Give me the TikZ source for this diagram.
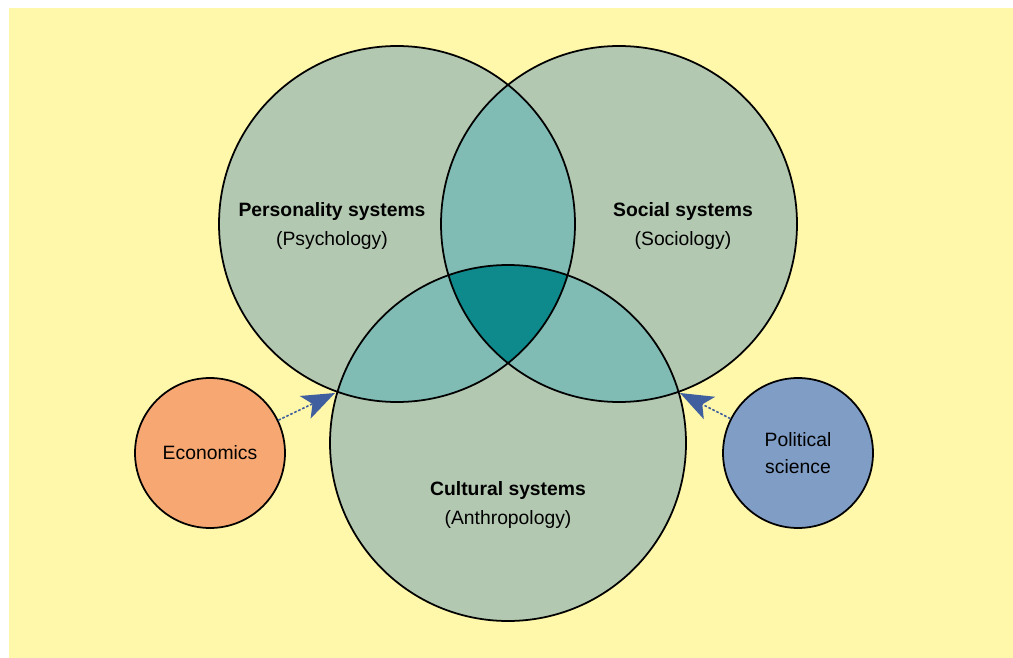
\documentclass[tikz,border=0pt]{standalone}
\usepackage{fontspec}
\setmainfont{Liberation Sans}
\usetikzlibrary{arrows.meta}

\definecolor{paper}{HTML}{FFF7AA}
\definecolor{basefill}{HTML}{B3C8B1}
\definecolor{pairfill}{HTML}{80BBB4}
\definecolor{tripfill}{HTML}{0F8A8C}
\definecolor{econfill}{HTML}{F7A872}
\definecolor{polfill}{HTML}{7F9DC5}
\definecolor{arrowblue}{HTML}{3F5F9E}

\begin{document}
\begin{tikzpicture}[x=0.02cm,y=-0.02cm,
		system/.style={circle,fill=basefill,inner sep=0pt,minimum size=7.12cm},
		field/.style={circle,draw,line width=1pt,inner sep=0pt,minimum size=3cm,align=center,font=\fontsize{11}{15}\selectfont},
		lbl/.style={align=center,font=\fontsize{11}{16}\selectfont},
		feed/.style={arrowblue,line width=0.9pt,dash pattern=on 1.5pt off 1pt,-{Stealth[length=0.66cm,width=0.5cm,inset=0.16cm]}}]
		\useasboundingbox (0,0) rectangle (1013,658);
		\fill[paper] (9,8) rectangle (1013,658);

		% the three systems
		\node[system] (pers) at (397,224) {};
		\node[system] (soc) at (619,224) {};
		\node[system] (cult) at (508,443) {};

		% overlaps
		\begin{scope}
			\clip (pers.center) circle (178);
			\fill[pairfill] (soc.center) circle (178);
			\fill[pairfill] (cult.center) circle (178);
		\end{scope}
		\begin{scope}
			\clip (soc.center) circle (178);
			\fill[pairfill] (cult.center) circle (178);
			\clip (cult.center) circle (178);
			\fill[tripfill] (pers.center) circle (178);
		\end{scope}
		\foreach \n in {pers,soc,cult}
			\draw[line width=1pt] (\n.center) circle (178);

		\node[lbl] (perslbl) at (332,226) {\textbf{Personality systems}\\(Psychology)};
		\node[lbl] (soclbl) at (683,226) {\textbf{Social systems}\\(Sociology)};
		\node[lbl] (cultlbl) at (508,505) {\textbf{Cultural systems}\\(Anthropology)};

		% outside fields
		\node[field,fill=econfill] (econ) at (210,453) {Economics};
		\node[field,fill=polfill] (pol) at (798,453) {Political\\science};

		\coordinate (pc) at (335,393);
		\coordinate (sc) at (680,393);
		\draw[feed] (econ) -- (pc);
		\draw[feed] (pol) -- (sc);
	\end{tikzpicture}
\end{document}
